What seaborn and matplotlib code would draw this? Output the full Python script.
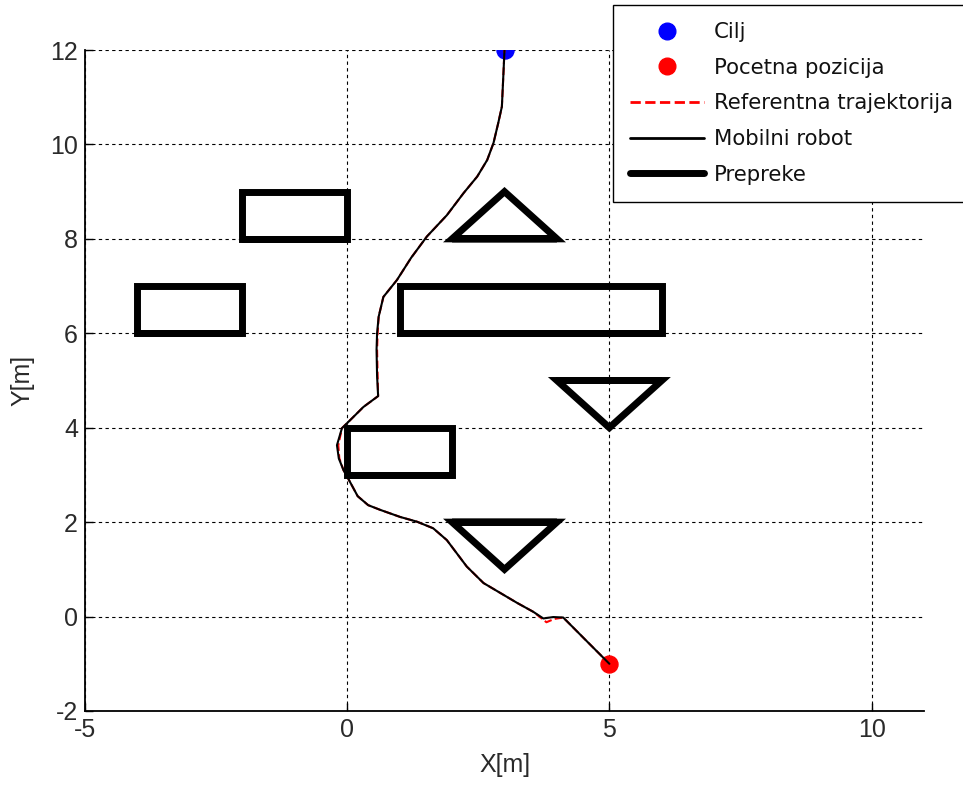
import numpy as np
import pandas as pd
import seaborn as sns
import matplotlib.pyplot as plt
from matplotlib.lines import Line2D

# ---------------- data ----------------
goal_x, goal_y = [3.0], [12.0]
start_x, start_y = [5.0], [-1.0]

robot_x = [5.0, 4.55, 4.12, 3.93, 3.74, 3.55, 3.24, 2.92, 2.6, 2.28, 2.09, 1.9, 1.64, 1.33,
           1.01, 0.63, 0.4, 0.2, 0.03, -0.07, -0.16, -0.195, -0.1, 0.02, 0.31, 0.59, 0.57,
           0.56, 0.57, 0.6, 0.69, 0.95, 1.22, 1.52, 1.9, 2.22, 2.48, 2.67, 2.79, 2.88, 2.95,
           2.98, 3.0]
robot_y = [-1.0, -0.5, -0.02, -0.01, -0.04, 0.1, 0.29, 0.5, 0.71, 1.06, 1.34, 1.62, 1.87, 2.01,
           2.11, 2.26, 2.36, 2.55, 2.9, 3.1, 3.35, 3.63, 3.99, 4.12, 4.44, 4.67, 5.1,
           5.65, 6.0, 6.35, 6.77, 7.13, 7.6, 8.05, 8.5, 8.97, 9.32, 9.67, 10.03, 10.45, 10.8,
           11.51, 12.0]

ref_x = [5.0, 4.55, 4.12, 3.95, 3.8, 3.55, 3.24, 2.92, 2.6, 2.28, 2.09, 1.9, 1.64, 1.33,
         1.01, 0.63, 0.4, 0.2, 0.03, -0.07, -0.15, -0.17, -0.1, 0.02, 0.31, 0.59, 0.58,
         0.57, 0.58, 0.6, 0.69, 0.95, 1.22, 1.52, 1.9, 2.22, 2.48, 2.67, 2.79, 2.88, 2.95,
         2.98, 3.0]
ref_y = [-1.0, -0.5, -0.02, -0.05, -0.12, 0.1, 0.29, 0.5, 0.71, 1.06, 1.34, 1.62, 1.87, 2.01,
         2.11, 2.26, 2.36, 2.55, 2.9, 3.1, 3.35, 3.63, 3.99, 4.12, 4.44, 4.67, 5.1,
         5.65, 6.0, 6.35, 6.77, 7.13, 7.6, 8.05, 8.5, 8.97, 9.32, 9.67, 10.03, 10.45, 10.8,
         11.51, 12.0]

obstacles = {
    "rect1": ([-2, 0, 0, -2], [8, 8, 9, 9]),
    "rect2": ([-4, -2, -2, -4], [6, 6, 7, 7]),
    "rect3": ([1, 6, 6, 1], [6, 6, 7, 7]),
    "rect4": ([0, 2, 2, 0], [3, 3, 4, 4]),
    "tri1": ([2, 4, 3], [8, 8, 9]),
    "tri2": ([4, 6, 5], [5, 5, 4]),
    "tri3": ([2, 4, 3], [2, 2, 1]),
}

x_ticks = [-5, 0, 5, 10]
y_ticks = [-2, 0, 2, 4, 6, 8, 10, 12]
labels = ["Cilj", "Pocetna pozicija", "Referentna trajektorija", "Mobilni robot", "Prepreke"]

# ---------------- frames ----------------
# closed outlines: wrap round past the first vertex so every corner gets a mitred join
obs_frames = []
for k, (vx, vy) in obstacles.items():
    cx = list(vx) + list(vx[:2])
    cy = list(vy) + list(vy[:2])
    obs_frames.append(pd.DataFrame({"id": k, "x": cx, "y": cy}))
obs_df = pd.concat(obs_frames, ignore_index=True)

# ---------------- style ----------------
sns.set_theme(style="white")
plt.rcParams["font.family"] = ["Liberation Sans", "DejaVu Sans"]

fig = plt.figure(figsize=(9.63, 7.86), dpi=100)
ax = fig.add_axes([85 / 963, 1 - 711 / 786, (924 - 85) / 963, (711 - 50) / 786])

sns.scatterplot(x=goal_x, y=goal_y, color="blue", edgecolor="blue", s=150, ax=ax,
                legend=False, zorder=3)
sns.scatterplot(x=start_x, y=start_y, color="red", edgecolor="red", s=150, ax=ax,
                legend=False, zorder=3)

sns.lineplot(x=ref_x, y=ref_y, sort=False, estimator=None, color="red", lw=1.5,
             linestyle="--", ax=ax, legend=False, zorder=4)
sns.lineplot(x=robot_x, y=robot_y, sort=False, estimator=None, color="black", lw=1.5,
             ax=ax, legend=False, zorder=5)

n_before = len(ax.lines)
sns.lineplot(data=obs_df, x="x", y="y", units="id", estimator=None, sort=False,
             color="black", lw=5, ax=ax, legend=False, zorder=6)
for ln in ax.lines[n_before:]:
    ln.set_solid_joinstyle("miter")
    ln.set_solid_capstyle("butt")

ax.set_xlim(-5, 11)
ax.set_ylim(-2, 12)
ax.set_xticks(x_ticks)
ax.set_yticks(y_ticks)
ax.set_xticklabels([str(t) for t in x_ticks])
ax.set_yticklabels([str(t) for t in y_ticks])

ax.grid(True, color="black", linestyle=(0, (3, 3)), lw=0.8)
ax.set_axisbelow(True)
for s in ["top", "right"]:
    ax.spines[s].set_visible(False)
for s in ["left", "bottom"]:
    ax.spines[s].set_color("black")
    ax.spines[s].set_linewidth(1.3)

ax.tick_params(bottom=True, left=True, direction="in", length=6, width=1,
               colors="black", labelsize=18, labelcolor="#2a2a2a")
ax.tick_params(axis="x", pad=5)
ax.tick_params(axis="y", pad=5)

ax.set_xlabel("X[m]", fontsize=18, color="#2a2a2a")
ax.set_ylabel("Y[m]", fontsize=18, color="#2a2a2a")
ax.xaxis.set_label_coords(0.5, -0.064)
ax.yaxis.set_label_coords(-0.06, 0.5)

handles = [
    Line2D([], [], marker="o", color="blue", linestyle="none", markersize=12),
    Line2D([], [], marker="o", color="red", linestyle="none", markersize=12),
    Line2D([], [], color="red", linestyle="--", lw=2),
    Line2D([], [], color="black", lw=2),
    Line2D([], [], color="black", lw=5),
]
leg = fig.legend(handles, labels, loc="upper left",
                 bbox_to_anchor=(613 / 963, 1 - 5 / 786), bbox_transform=fig.transFigure,
                 frameon=True, fancybox=False, edgecolor="black", framealpha=1,
                 prop={"family": "DejaVu Sans", "size": 15.3}, handlelength=3.5,
                 handletextpad=0.45, labelspacing=0.74, borderpad=0.8, borderaxespad=0)
leg.get_frame().set_linewidth(1.0)
for t in leg.get_texts():
    t.set_color("#111111")

fig.savefig("out.png", dpi=100, facecolor="white")
